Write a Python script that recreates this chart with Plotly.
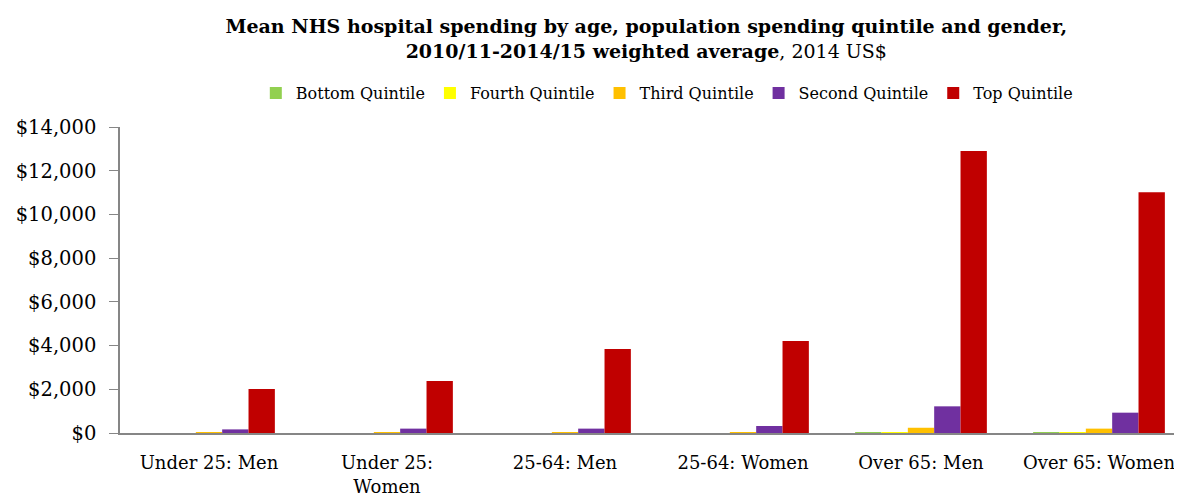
import plotly.graph_objects as go

categories = ["Under 25: Men", "Under 25:<br>Women", "25-64: Men", "25-64: Women", "Over 65: Men", "Over 65: Women"]
series_names = ["Bottom Quintile", "Fourth Quintile", "Third Quintile", "Second Quintile", "Top Quintile"]
bottom = [0, 0, 0, 0, 3, 3]
fourth = [0, 0, 0, 0, 5, 5]
third = [3, 3, 4, 5, 240, 200]
second = [165, 200, 200, 320, 1220, 930]
top = [2010, 2380, 3840, 4210, 12900, 11020]
colors = ["#92D050", "#FFFF00", "#FFC000", "#7030A0", "#C00000"]
tick_vals = [0, 2000, 4000, 6000, 8000, 10000, 12000, 14000]
tick_text = ["$0", "$2,000", "$4,000", "$6,000", "$8,000", "$10,000", "$12,000", "$14,000"]

font = "DejaVu Serif"
fig = go.Figure()
for name, vals, c in zip(series_names, [bottom, fourth, third, second, top], colors):
    fig.add_trace(go.Bar(name=name, x=categories, y=vals, marker=dict(color=c, line=dict(width=0))))

fig.update_layout(
    barmode="group", bargap=0.26, bargroupgap=0,
    width=1182, height=499,
    plot_bgcolor="white", paper_bgcolor="white",
    margin=dict(l=112, r=2, t=119, b=74),
    font=dict(family=font, size=19, color="#000000"),
    title=dict(
        text="<b>Mean NHS hospital spending by age, population spending quintile and gender,<br>2010/11-2014/15 weighted average</b>, 2014 US$",
        x=0.54, xanchor="center", y=0.95, yanchor="top",
        font=dict(family=font, size=19, color="#000000"),
    ),
    legend=dict(orientation="h", x=0.512, xanchor="center", y=1.111, yanchor="middle",
                font=dict(family=font, size=16), traceorder="normal",
                itemsizing="constant", itemwidth=30),
    xaxis=dict(showline=True, linecolor="#868686", linewidth=1.5, ticks="", tickfont=dict(size=18),
               ticklabelstandoff=13),
    yaxis=dict(range=[0, 14000], tickvals=tick_vals, ticktext=tick_text, showgrid=False,
               showline=True, linecolor="#868686", linewidth=1.5, ticks="outside", ticklen=9,
               tickcolor="#868686", tickfont=dict(size=19.5), zeroline=False, ticklabelstandoff=9),
)
fig.write_html("out.html")
